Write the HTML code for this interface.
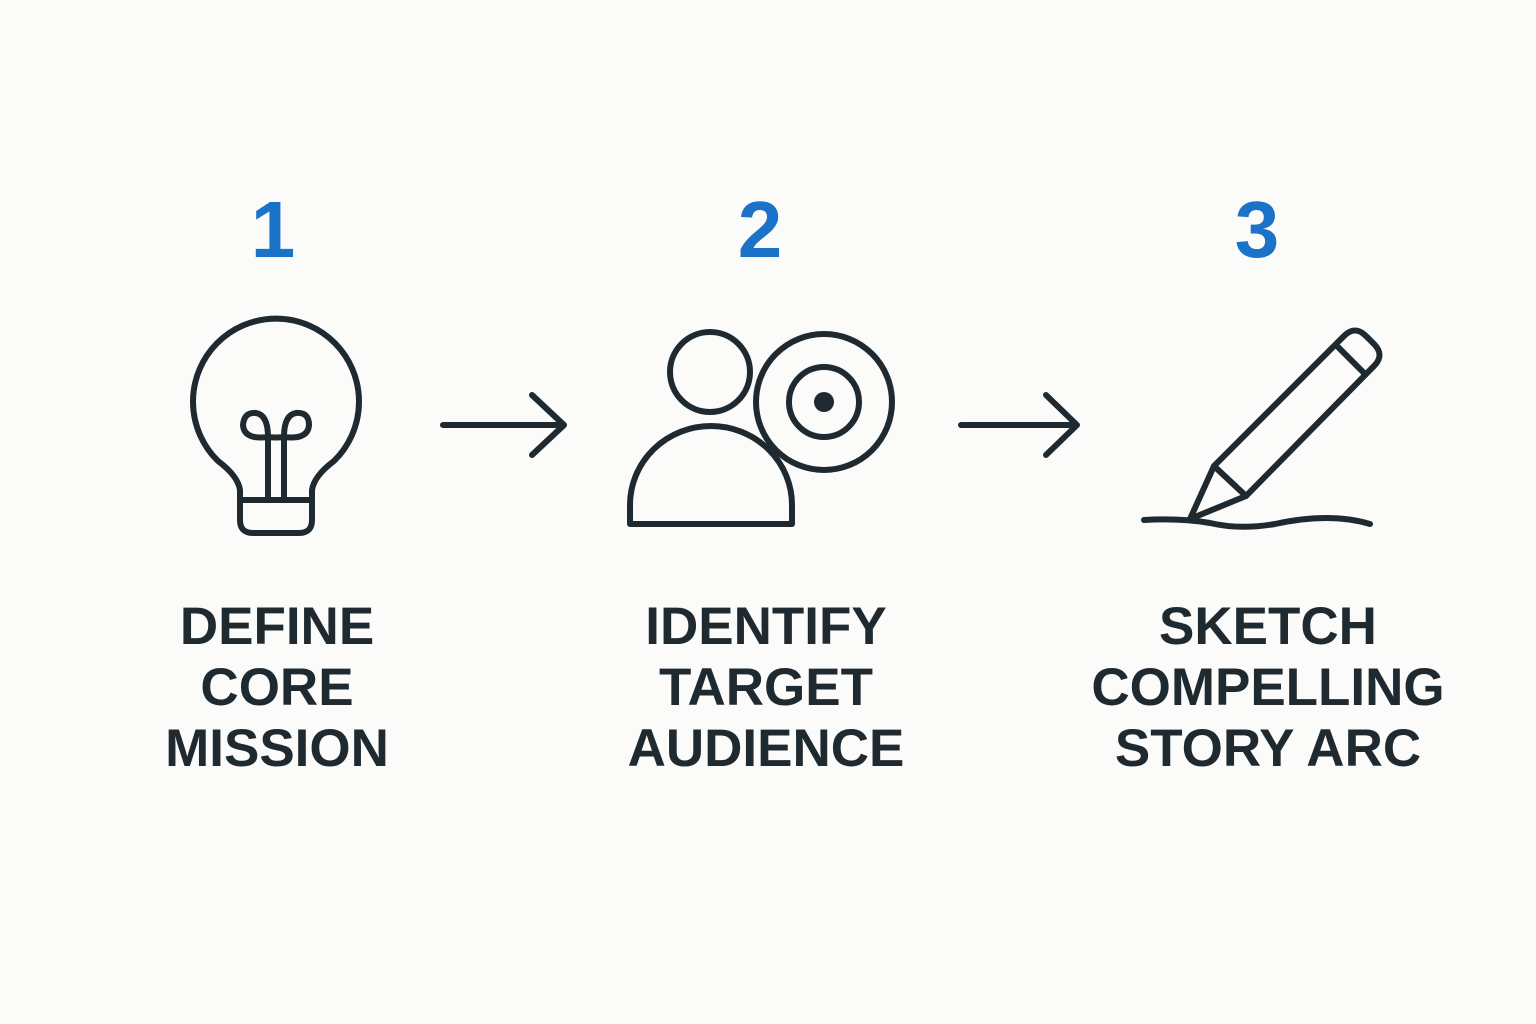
<!DOCTYPE html>
<html><head><meta charset="utf-8"><style>
html,body{margin:0;padding:0;background:#fbfbf9;}
body{width:1536px;height:1024px;overflow:hidden;position:relative;font-family:"Liberation Sans",sans-serif;}
.n{position:absolute;top:182px;width:200px;margin-left:-100px;text-align:center;font-size:80px;font-weight:bold;color:#1a73c8;line-height:96px;}
.l{position:absolute;top:596px;width:500px;margin-left:-250px;text-align:center;font-size:53px;font-weight:bold;color:#1f2a30;line-height:61px;}
svg{position:absolute;left:0;top:0;}
</style></head><body>
<div class="n" style="left:273px">1</div>
<div class="n" style="left:760px">2</div>
<div class="n" style="left:1257px">3</div>
<div class="l" style="left:277px">DEFINE<br>CORE<br>MISSION</div>
<div class="l" style="left:766px">IDENTIFY<br>TARGET<br>AUDIENCE</div>
<div class="l" style="left:1268px">SKETCH<br>COMPELLING<br>STORY ARC</div>
<svg width="1536" height="1024" fill="none" stroke="#1f2a30" stroke-width="6" stroke-linecap="round" stroke-linejoin="round">
<path d="M240,500 L240,490 Q238,476 218,461 A83,83 0 1 1 334,461 Q314,476 312,490 L312,500"/>
<path d="M240,500 L312,500 L312,520 Q312,533 299,533 L253,533 Q240,533 240,520 Z"/>
<path d="M268,500 L268,437 M284,500 L284,437"/>
<path d="M268,437 Q244,440 243,425 Q244,412 256,413 Q268,415 268,437 Q276,438 284,437 Q284,415 296,413 Q309,412 309,425 Q308,440 284,437"/>
<path d="M443,425 L564,425 M532,395 L564,425 L532,455"/>
<path d="M961,425 L1077,425 M1046,395 L1077,425 L1046,455"/>
<circle cx="710" cy="372" r="40"/>
<path d="M630,524 L630,505 A81,79 0 0 1 792,505 L792,524 Z"/>
<circle cx="824" cy="402" r="68" fill="#fbfbf9"/>
<circle cx="824" cy="402" r="35"/>
<circle cx="824" cy="402" r="10" fill="#1f2a30" stroke="none"/>
<path d="M1190,519 L1214,466 L1344,336 Q1355,325 1366,336 L1374,344 Q1385,355 1374,366 L1246,496 Z"/>
<path d="M1214,466 L1246,496 M1336,345 L1364,373"/>
<path d="M1144,520 Q1180,518 1210,523 Q1240,530 1275,524 Q1330,512 1370,524"/>
</svg>
</body></html>
